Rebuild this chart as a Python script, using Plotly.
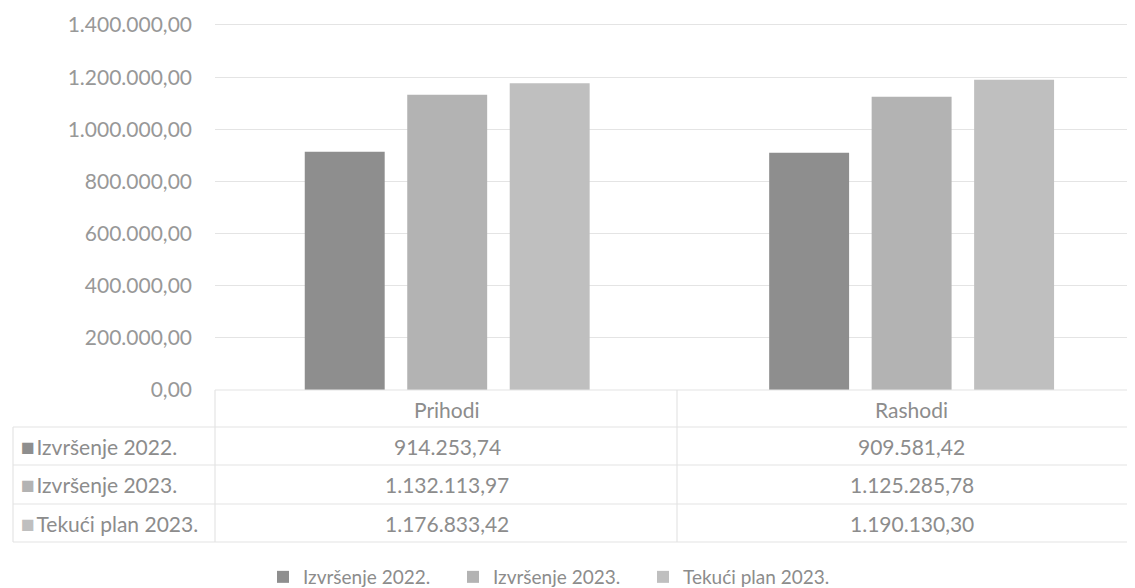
import plotly.graph_objects as go

# ---------------- data ----------------
categories = ["Prihodi", "Rashodi"]
series_names = ["Izvršenje 2022.", "Izvršenje 2023.", "Tekući plan 2023."]
izvrsenje_2022 = [914253.74, 909581.42]
izvrsenje_2023 = [1132113.97, 1125285.78]
tekuci_plan_2023 = [1176833.42, 1190130.30]
tick_values = [0, 200000, 400000, 600000, 800000, 1000000, 1200000, 1400000]
tick_labels = ["0,00", "200.000,00", "400.000,00", "600.000,00", "800.000,00",
               "1.000.000,00", "1.200.000,00", "1.400.000,00"]

series_values = [izvrsenje_2022, izvrsenje_2023, tekuci_plan_2023]
colors = ["#8e8e8e", "#b3b3b3", "#bfbfbf"]

# page has an 8px body margin: figure sized to fit the viewport exactly
OFF = 8
W, H = 1135 - OFF, 588 - OFF
FONT = "Lato"
TXT = "#8c8c8c"
TICK_TXT = "#989898"
LINE = "#e4e4e4"
FS = 21


def fmt(v):
    s = f"{v:,.2f}"
    return s.replace(",", "X").replace(".", ",").replace("X", ".")


def px(x):
    """reference-picture x pixel -> paper fraction"""
    return (x - OFF) / W


def py(y):
    """reference-picture y pixel -> paper fraction"""
    return 1 - (y - OFF) / H


fig = go.Figure()
for name, vals, col in zip(series_names, series_values, colors):
    fig.add_trace(go.Bar(x=categories, y=vals, name=name,
                         marker=dict(color=col, line=dict(width=0))))

plot_left = 215
y_top_value = 1405000
plot_bottom = 390
plot_top = plot_bottom - (390 - 25) * y_top_value / 1400000

table_left = 13
row_lines = [390, 427, 465, 504, 542]
col_split = 677

shapes = []
for i, yl in enumerate(row_lines):
    x0 = plot_left if i == 0 else table_left
    shapes.append(dict(type="line", xref="paper", yref="paper",
                       x0=px(x0), x1=1.0, y0=py(yl), y1=py(yl),
                       line=dict(color=LINE, width=1.2)))
shapes.append(dict(type="line", xref="paper", yref="paper",
                   x0=px(table_left), x1=px(table_left),
                   y0=py(row_lines[1]), y1=py(row_lines[-1]),
                   line=dict(color=LINE, width=1.2)))
for xv in [plot_left, col_split]:
    shapes.append(dict(type="line", xref="paper", yref="paper",
                       x0=px(xv), x1=px(xv),
                       y0=py(row_lines[0]), y1=py(row_lines[-1]),
                       line=dict(color=LINE, width=1.2)))

annotations = []
hy = (row_lines[0] + row_lines[1]) / 2 + 1
for c in categories:
    annotations.append(dict(x=c, xref="x", y=py(hy), yref="paper",
                            yanchor="middle", text=c, showarrow=False,
                            font=dict(family=FONT, size=FS, color=TXT)))
for r, (name, vals, col) in enumerate(zip(series_names, series_values, colors)):
    cy = (row_lines[r + 1] + row_lines[r + 2]) / 2
    annotations.append(dict(x=px(19), xref="paper", xanchor="left",
                            y=py(cy), yref="paper", yanchor="middle",
                            showarrow=False,
                            text=(f"<span style='color:{col};font-size:23px'>■</span>"
                                  f"<span style='font-size:6px'> </span>{name}"),
                            font=dict(family=FONT, size=FS, color=TXT)))
    for c, v in zip(categories, vals):
        annotations.append(dict(x=c, xref="x", y=py(cy), yref="paper",
                                yanchor="middle", text=fmt(v), showarrow=False,
                                font=dict(family=FONT, size=FS, color=TXT)))

fig.update_layout(
    width=W, height=H,
    margin=dict(l=0, r=0, t=0, b=0, pad=0, autoexpand=False),
    paper_bgcolor="white", plot_bgcolor="white",
    barmode="group", bargap=0.338, bargroupgap=0.22,
    font=dict(family=FONT, size=FS, color=TXT),
    xaxis=dict(domain=[px(plot_left), 1], range=[-0.5, 1.481],
               showticklabels=False, showgrid=False, zeroline=False,
               showline=False, ticks=""),
    yaxis=dict(domain=[py(plot_bottom), py(plot_top)], range=[0, y_top_value],
               tickvals=tick_values, ticktext=tick_labels,
               showgrid=True, gridcolor=LINE, gridwidth=1.2,
               zeroline=False, showline=False, ticks="",
               ticklabelstandoff=22,
               tickfont=dict(family=FONT, size=FS, color=TICK_TXT)),
    legend=dict(orientation="h", x=px(263), xanchor="left",
                y=py(577), yanchor="middle",
                font=dict(family=FONT, size=19, color=TXT),
                entrywidth=145, entrywidthmode="pixels",
                itemwidth=30, tracegroupgap=0,
                itemclick=False, itemdoubleclick=False),
    shapes=shapes, annotations=annotations,
)

fig.write_html("out.html")
